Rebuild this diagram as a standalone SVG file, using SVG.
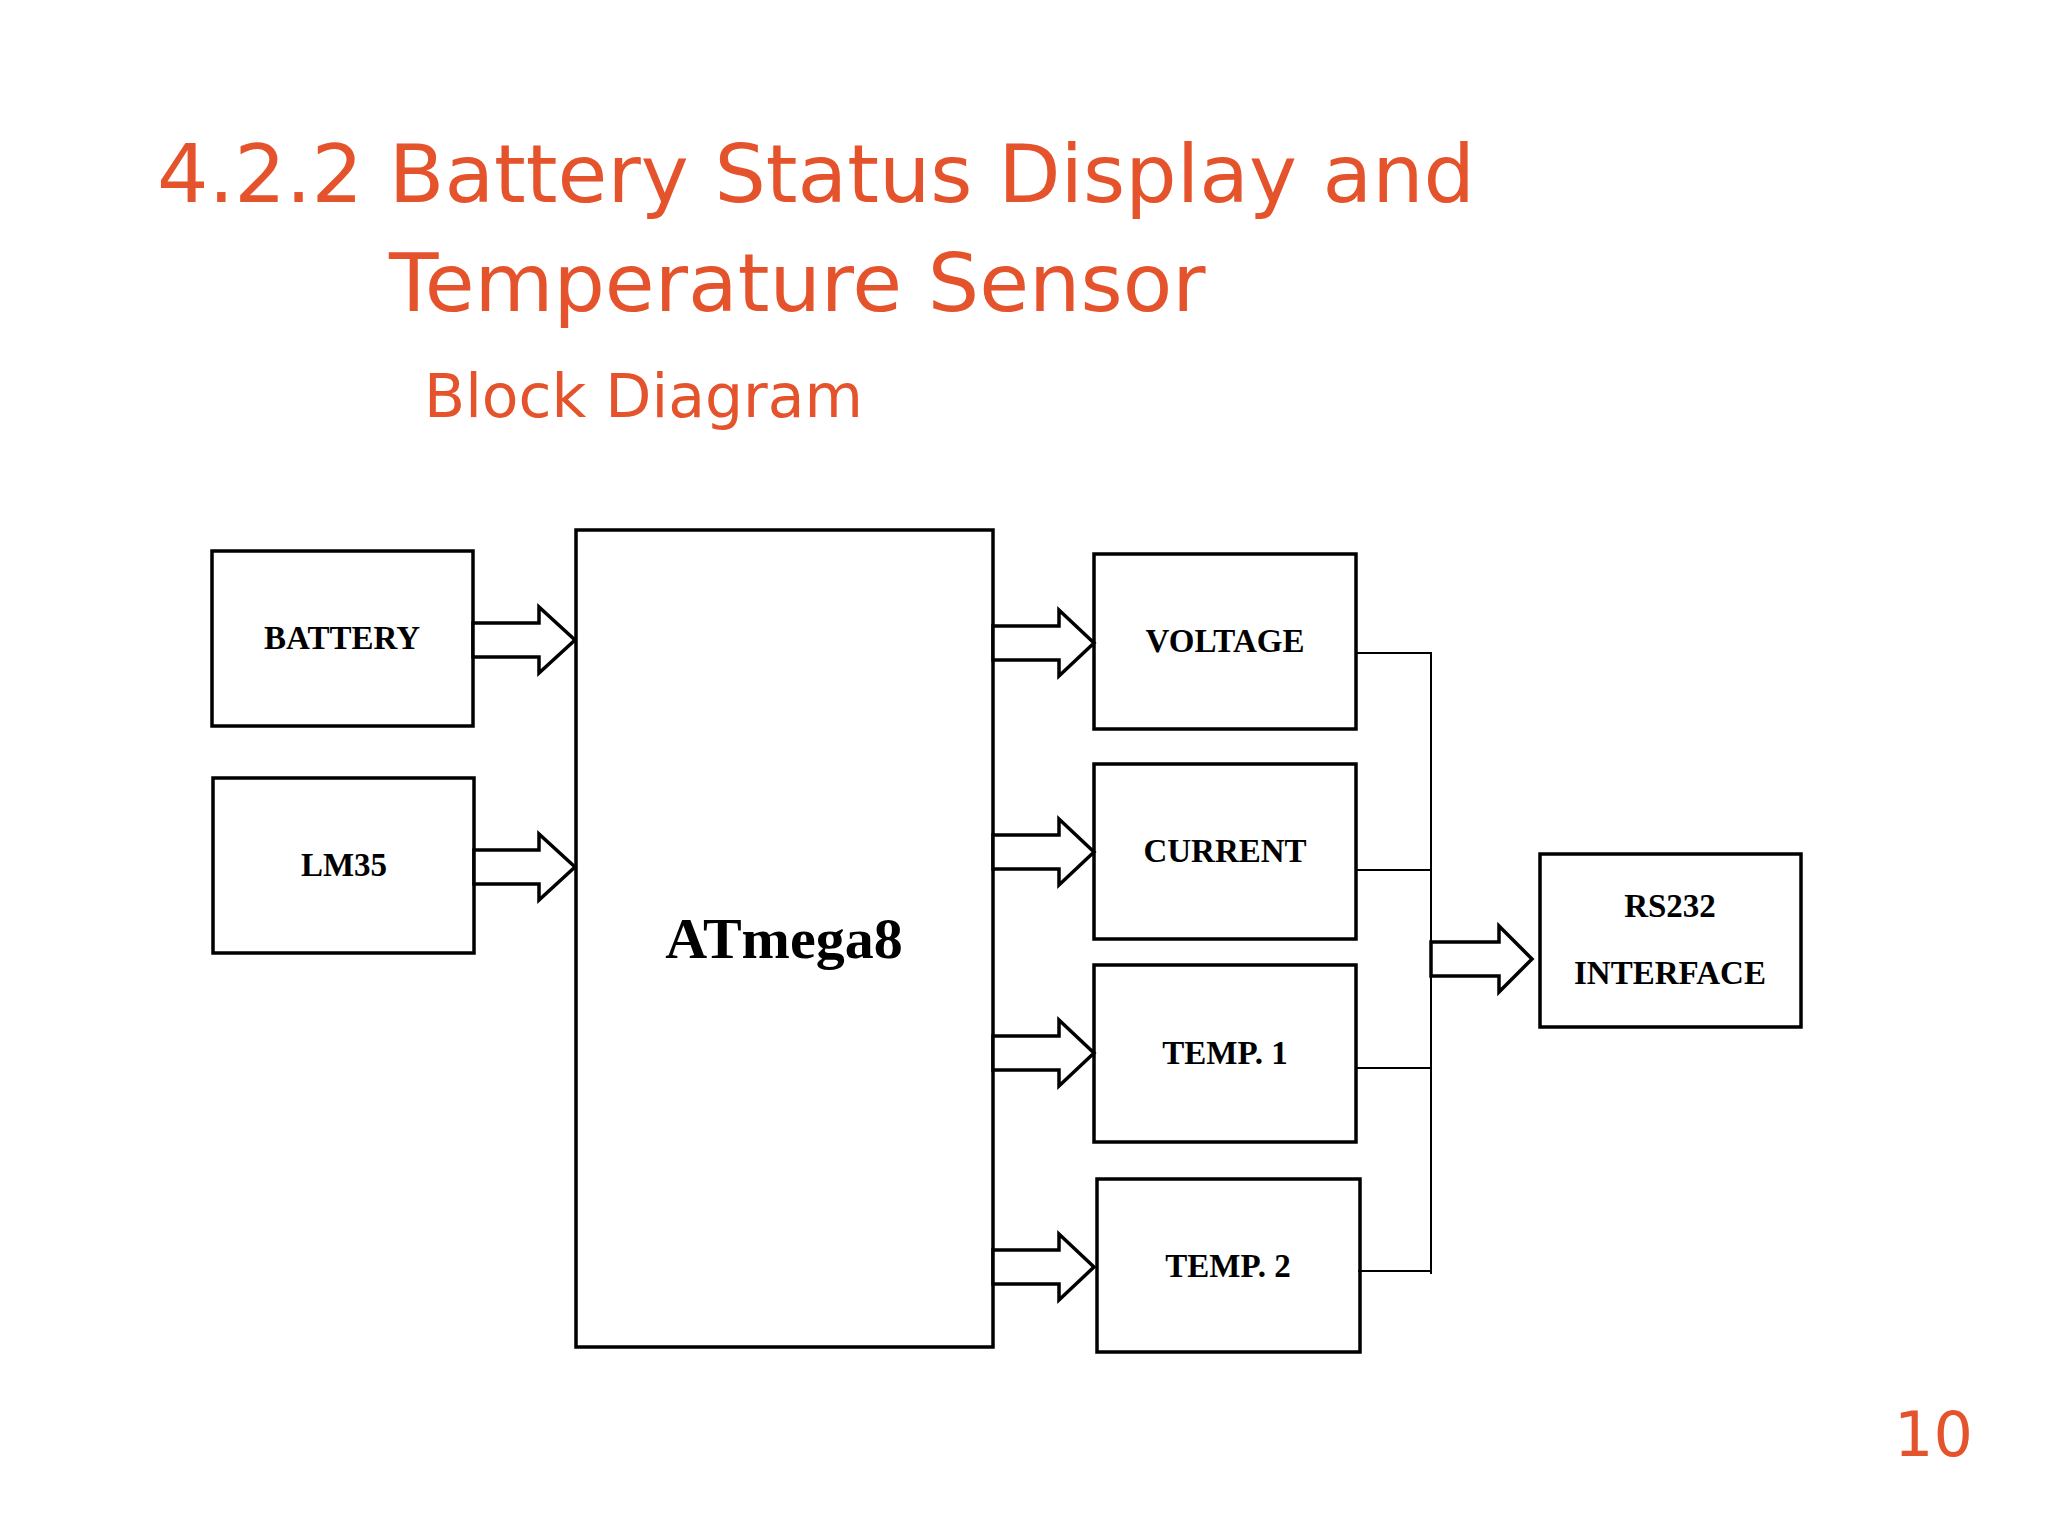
<svg xmlns="http://www.w3.org/2000/svg" width="2048" height="1536" viewBox="0 0 2048 1536">
<style>
.t{fill:#E4532B;font-family:"DejaVu Sans","Open Sans",sans-serif}
.b{fill:#fff;stroke:#000;stroke-width:3.5}
.l{font-family:"Liberation Serif",serif;font-weight:bold;font-size:33px;text-anchor:middle;fill:#000}
.a{fill:#fff;stroke:#000;stroke-width:3.5;stroke-linejoin:miter}
.w{stroke:#000;stroke-width:2;fill:none}
</style>
<rect width="2048" height="1536" fill="#fff"/>
<text class="t" x="157" y="202" font-size="81">4.2.2 Battery Status Display and</text>
<text class="t" x="389" y="311" font-size="81">Temperature Sensor</text>
<text class="t" x="424" y="417" font-size="60">Block Diagram</text>
<text class="t" x="1894" y="1456" font-size="62">10</text>
<g id="battery"><rect class="b" x="212" y="551" width="261" height="175"/><text class="l" x="342" y="649">BATTERY</text></g>
<g id="lm35"><rect class="b" x="213" y="778" width="261" height="175"/><text class="l" x="344" y="876">LM35</text></g>
<g id="atmega8"><rect class="b" x="576" y="530" width="417" height="817"/><text class="l" x="784" y="958" style="font-size:58px">ATmega8</text></g>
<g id="voltage"><rect class="b" x="1094" y="554" width="262" height="175"/><text class="l" x="1225" y="652">VOLTAGE</text></g>
<g id="current"><rect class="b" x="1094" y="764" width="262" height="175"/><text class="l" x="1225" y="862">CURRENT</text></g>
<g id="temp1"><rect class="b" x="1094" y="965" width="262" height="177"/><text class="l" x="1225" y="1064">TEMP. 1</text></g>
<g id="temp2"><rect class="b" x="1097" y="1179" width="263" height="173"/><text class="l" x="1228" y="1277">TEMP. 2</text></g>
<g id="rs232"><rect class="b" x="1540" y="854" width="261" height="173"/><text class="l" x="1670" y="917">RS232</text><text class="l" x="1670" y="984">INTERFACE</text></g>
<g id="connectors">
<path class="a" d="M473,623 H539 V607 L575,640 L539,673 V657 H473 Z"/>
<path class="a" d="M474,850 H539 V834 L575,867 L539,900 V884 H474 Z"/>
<path class="a" d="M993,626 H1059 V610 L1094,643 L1059,676 V660 H993 Z"/>
<path class="a" d="M993,835 H1059 V819 L1094,852 L1059,885 V869 H993 Z"/>
<path class="a" d="M993,1036 H1059 V1020 L1094,1053 L1059,1086 V1070 H993 Z"/>
<path class="a" d="M993,1250 H1059 V1234 L1094,1267 L1059,1300 V1284 H993 Z"/>
<path class="a" d="M1431,942 H1499 V926 L1532,959 L1499,992 V976 H1431 Z"/>
<path class="w" d="M1356,653 H1431 V1274 M1356,870 H1431 M1356,1068 H1431 M1358,1271 H1431"/>
</g>
</svg>
